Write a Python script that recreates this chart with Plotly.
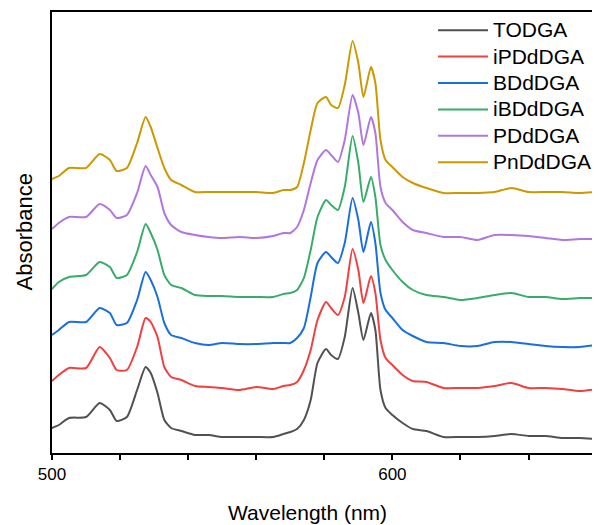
import plotly.graph_objects as go

wavelength = [500, 502, 505, 510, 514, 517, 519, 522, 525, 527.5, 529, 531, 533, 535, 538, 542, 546, 550,
              555, 560, 565, 568, 570, 572, 574, 576, 578, 580.5, 582, 584, 586, 588.3, 590, 591.5, 593.7,
              595, 596.5, 598, 600, 603, 606, 610, 615, 620, 625, 630, 635, 640, 645, 650, 655, 660]

todga = [0.25, 0.28, 0.35, 0.36, 0.50, 0.43, 0.32, 0.36, 0.63, 0.86, 0.80, 0.60, 0.33, 0.25, 0.22, 0.18, 0.18, 0.16,
         0.16, 0.16, 0.16, 0.19, 0.21, 0.24, 0.33, 0.53, 0.90, 1.04, 0.98, 0.94, 1.16, 1.65, 1.40, 1.13, 1.40,
         1.23, 0.63, 0.45, 0.38, 0.30, 0.24, 0.22, 0.16, 0.16, 0.16, 0.17, 0.19, 0.17, 0.17, 0.15, 0.15, 0.14]

ipddga = [0.72, 0.78, 0.85, 0.85, 1.06, 0.95, 0.83, 0.83, 1.06, 1.35, 1.31, 1.16, 0.86, 0.76, 0.73, 0.67, 0.66, 0.65,
          0.63, 0.66, 0.64, 0.67, 0.68, 0.71, 0.83, 1.03, 1.33, 1.51, 1.45, 1.38, 1.56, 2.04, 1.83, 1.50, 1.77,
          1.60, 1.13, 0.95, 0.88, 0.78, 0.72, 0.71, 0.65, 0.65, 0.65, 0.67, 0.70, 0.65, 0.65, 0.64, 0.62, 0.64]

bddga = [1.18, 1.23, 1.31, 1.31, 1.45, 1.40, 1.28, 1.30, 1.53, 1.81, 1.73, 1.56, 1.30, 1.18, 1.15, 1.10, 1.08, 1.10,
         1.09, 1.09, 1.10, 1.10, 1.10, 1.15, 1.25, 1.56, 1.90, 2.01, 1.96, 1.90, 2.10, 2.55, 2.33, 2.01, 2.31,
         2.10, 1.60, 1.43, 1.35, 1.23, 1.17, 1.11, 1.10, 1.07, 1.07, 1.11, 1.11, 1.09, 1.07, 1.06, 1.06, 1.08]

ibddga = [1.64, 1.71, 1.76, 1.78, 1.91, 1.86, 1.75, 1.78, 2.01, 2.29, 2.20, 2.03, 1.78, 1.68, 1.65, 1.58, 1.57, 1.57,
          1.56, 1.56, 1.56, 1.59, 1.60, 1.63, 1.75, 2.03, 2.36, 2.53, 2.48, 2.43, 2.66, 3.17, 2.90, 2.51, 2.76,
          2.56, 2.08, 1.93, 1.83, 1.71, 1.63, 1.58, 1.56, 1.53, 1.55, 1.58, 1.60, 1.56, 1.56, 1.54, 1.55, 1.55]

pddga = [2.24, 2.30, 2.36, 2.36, 2.49, 2.43, 2.35, 2.38, 2.60, 2.87, 2.78, 2.66, 2.40, 2.28, 2.21, 2.18, 2.16, 2.15,
         2.16, 2.15, 2.17, 2.20, 2.20, 2.26, 2.43, 2.70, 2.93, 3.03, 2.98, 2.91, 3.13, 3.58, 3.40, 3.08, 3.36,
         3.20, 2.66, 2.50, 2.43, 2.31, 2.23, 2.20, 2.16, 2.16, 2.13, 2.18, 2.18, 2.17, 2.15, 2.13, 2.14, 2.14]

pnddga = [2.74, 2.77, 2.85, 2.85, 2.99, 2.93, 2.82, 2.85, 3.10, 3.36, 3.26, 3.05, 2.85, 2.73, 2.68, 2.61, 2.61, 2.61,
          2.61, 2.61, 2.60, 2.63, 2.63, 2.66, 2.90, 3.23, 3.50, 3.56, 3.48, 3.45, 3.68, 4.12, 3.90, 3.56, 3.86,
          3.70, 3.13, 2.93, 2.86, 2.76, 2.70, 2.65, 2.60, 2.60, 2.60, 2.61, 2.65, 2.61, 2.61, 2.61, 2.60, 2.61]

names = ["TODGA", "iPDdDGA", "BDdDGA", "iBDdDGA", "PDdDGA", "PnDdDGA"]
series = [todga, ipddga, bddga, ibddga, pddga, pnddga]
colors = ["#515151", "#F14040", "#1A6FDF", "#37AD6B", "#B177DE", "#CC9900"]

FONT = "Liberation Sans, Arial, sans-serif"

fig = go.Figure()
for name, ys, c in zip(names, series, colors):
    fig.add_trace(go.Scatter(x=wavelength, y=ys, mode="lines",
                             name='<span style="font-size:21px">' + name + '</span>',
                             line=dict(color=c, width=2, shape="spline", smoothing=0.6)))

# page body has an 8px default margin, so the figure is sized/offset to compensate
fig.update_layout(
    width=592, height=517,
    margin=dict(l=44, r=1, t=4, b=72, autoexpand=False),
    paper_bgcolor="white", plot_bgcolor="white",
    font=dict(family=FONT, color="black"),
    showlegend=True,
    legend=dict(x=(433 - 52) / 547, y=1.0, xanchor="left", yanchor="top",
                font=dict(size=18, family=FONT, color="black"), itemwidth=50,
                bgcolor="rgba(0,0,0,0)", tracegroupgap=0),
    xaxis=dict(range=[500, 660.7], tick0=500, dtick=100, ticks="outside", ticklen=5, tickwidth=1.5,
               tickcolor="black", showline=True, linecolor="black", linewidth=1.5, mirror=True,
               showgrid=False, zeroline=False, tickfont=dict(size=17, family=FONT, color="black"),
               automargin=False,
               minor=dict(dtick=20, ticks="outside", ticklen=5, tickwidth=1.5, tickcolor="black",
                          showgrid=False)),
    yaxis=dict(range=[0, 4.41], showticklabels=False, ticks="", showline=True, linecolor="black",
               linewidth=1.5, mirror=True, showgrid=False, zeroline=False, automargin=False),
    annotations=[
        dict(text="Wavelength (nm)", xref="paper", yref="paper", x=(307.5 - 52) / 547, y=-(513 - 453) / 441,
             xanchor="center", yanchor="middle", showarrow=False, font=dict(size=21, family=FONT)),
        dict(text="Absorbance", xref="paper", yref="paper", x=(24 - 52) / 547, y=0.5, textangle=-90,
             xanchor="center", yanchor="middle", showarrow=False, font=dict(size=22, family=FONT)),
    ],
)

fig.write_html("out.html")
